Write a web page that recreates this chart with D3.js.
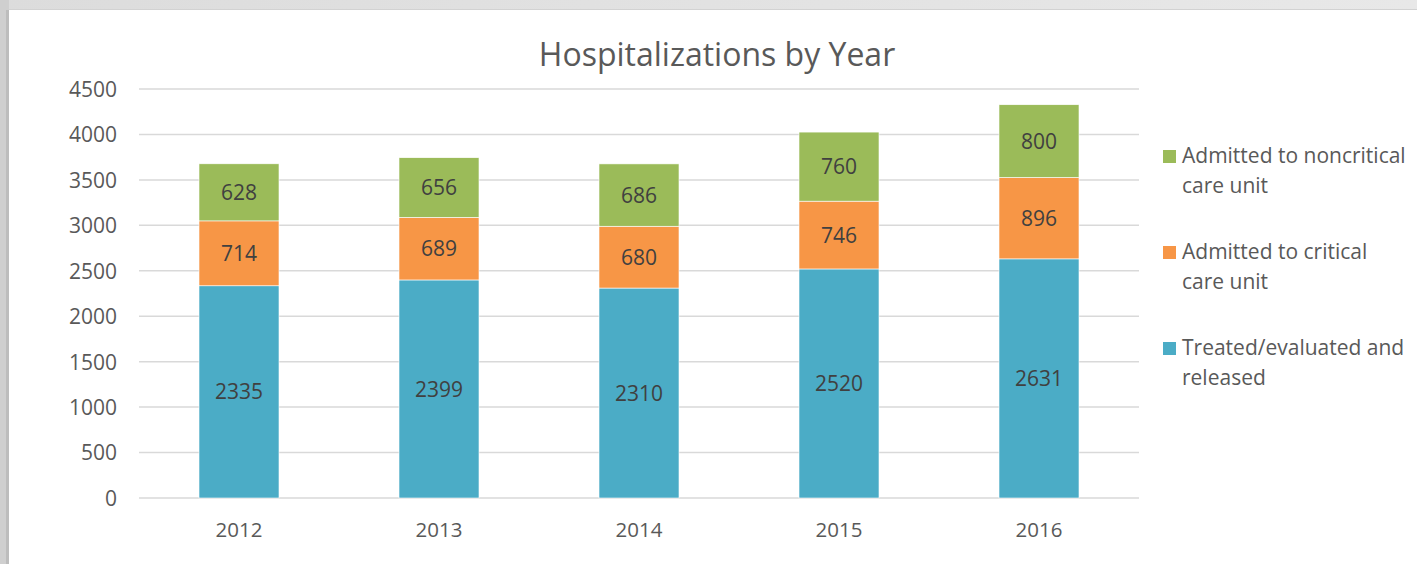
<!DOCTYPE html>
<html><head><meta charset="utf-8">
<script src="https://cdn.jsdelivr.net/npm/d3@7"></script>
<style>
html,body{margin:0;padding:0;background:#e2e2e2;}
svg{display:block;}
</style></head>
<body>
<svg id="chart" width="1417" height="564"></svg>
<script>
const years = ["2012","2013","2014","2015","2016"];
const treated = [2335,2399,2310,2520,2631];
const critical = [714,689,680,746,896];
const noncritical = [628,656,686,760,800];
const yTicks = [0,500,1000,1500,2000,2500,3000,3500,4000,4500];
const seriesNames = ["Treated/evaluated and released","Admitted to critical care unit","Admitted to noncritical care unit"];
const seriesColors = ["#4BACC6","#F79646","#9BBB59"];
const legendLines = [["Admitted to noncritical","care unit"],["Admitted to critical","care unit"],["Treated/evaluated and","released"]];
const legendColors = ["#9BBB59","#F79646","#4BACC6"];

const svg = d3.select("#chart");
const font = "'Open Sans', sans-serif";

// frame
const defs = svg.append("defs");
const grad = defs.append("linearGradient").attr("id","topg").attr("x1",0).attr("x2",1).attr("y1",0).attr("y2",0);
grad.append("stop").attr("offset","0%").attr("stop-color","#dcdcdc");
grad.append("stop").attr("offset","100%").attr("stop-color","#e8e8e8");
svg.append("rect").attr("x",0).attr("y",0).attr("width",1417).attr("height",564).attr("fill","url(#topg)");
svg.append("rect").attr("x",0).attr("y",0).attr("width",9).attr("height",564).attr("fill","#cfcfcf");
svg.append("rect").attr("x",9).attr("y",9).attr("width",1408).attr("height",1.5).attr("fill","#d2d2d2");
svg.append("rect").attr("x",6).attr("y",10).attr("width",3).attr("height",554).attr("fill","#bdbdbd");
svg.append("rect").attr("x",9).attr("y",10).attr("width",1408).attr("height",554).attr("fill","#ffffff");

const x = d3.scaleBand().domain(years).range([139,1139]).paddingInner(0.6).paddingOuter(0.3);
const y = d3.scaleLinear().domain([0,4500]).range([498,89]);

// gridlines
svg.append("g").selectAll("line").data(yTicks).join("line")
  .attr("x1",139).attr("x2",1139)
  .attr("y1",d=>y(d)).attr("y2",d=>y(d))
  .attr("stroke","#d9d9d9").attr("stroke-width",1.5);

// y axis labels
const yAxis = d3.axisLeft(y).tickValues(yTicks).tickFormat(d3.format("d")).tickSize(0).tickPadding(0);
const ya = svg.append("g").attr("transform","translate(117,0)").call(yAxis);
ya.select(".domain").remove();
ya.selectAll("text").attr("font-family",font).attr("font-size","21px").attr("fill","#595959").attr("dy","0.35em");

// x axis labels
const xAxis = d3.axisBottom(x).tickSize(0).tickPadding(0);
const xa = svg.append("g").attr("transform","translate(0,530)").call(xAxis);
xa.select(".domain").remove();
xa.selectAll("text").attr("font-family",font).attr("font-size","20.5px").attr("fill","#595959").attr("dy","0.35em");

// stacked
const rows = years.map((yr,i)=>({year:yr, s0:treated[i], s1:critical[i], s2:noncritical[i]}));
const stack = d3.stack().keys(["s0","s1","s2"]);
const stacked = stack(rows);

const g = svg.append("g");
stacked.forEach((layer,li)=>{
  g.append("g").selectAll("rect").data(layer).join("rect")
    .attr("x",d=>x(d.data.year))
    .attr("width",x.bandwidth())
    .attr("y",d=>y(d[1]))
    .attr("height",d=>y(d[0])-y(d[1]))
    .attr("fill",seriesColors[li])
    .attr("stroke","#ffffff").attr("stroke-width",0.6);
  g.append("g").selectAll("text").data(layer).join("text")
    .attr("x",d=>x(d.data.year)+x.bandwidth()/2)
    .attr("y",d=>(y(d[0])+y(d[1]))/2)
    .attr("dy","0.36em")
    .attr("text-anchor","middle")
    .attr("font-family",font).attr("font-size","21px").attr("fill","#404040")
    .text(d=>d[1]-d[0]);
});

// title
svg.append("text").attr("x",717).attr("y",55).attr("dy","0.35em")
  .attr("text-anchor","middle").attr("font-family",font).attr("font-size","32px")
  .attr("fill","#595959").text("Hospitalizations by Year");

// legend
const lg = svg.append("g");
legendLines.forEach((lines,i)=>{
  const cy = 156 + i*96;
  lg.append("rect").attr("x",1163).attr("y",cy-6).attr("width",13).attr("height",13).attr("fill",legendColors[i]);
  lines.forEach((t,j)=>{
    lg.append("text").attr("x",1182).attr("y",cy + j*30).attr("dy","0.35em")
      .attr("font-family",font).attr("font-size","21px").attr("fill","#595959").text(t);
  });
});
</script>
</body></html>
